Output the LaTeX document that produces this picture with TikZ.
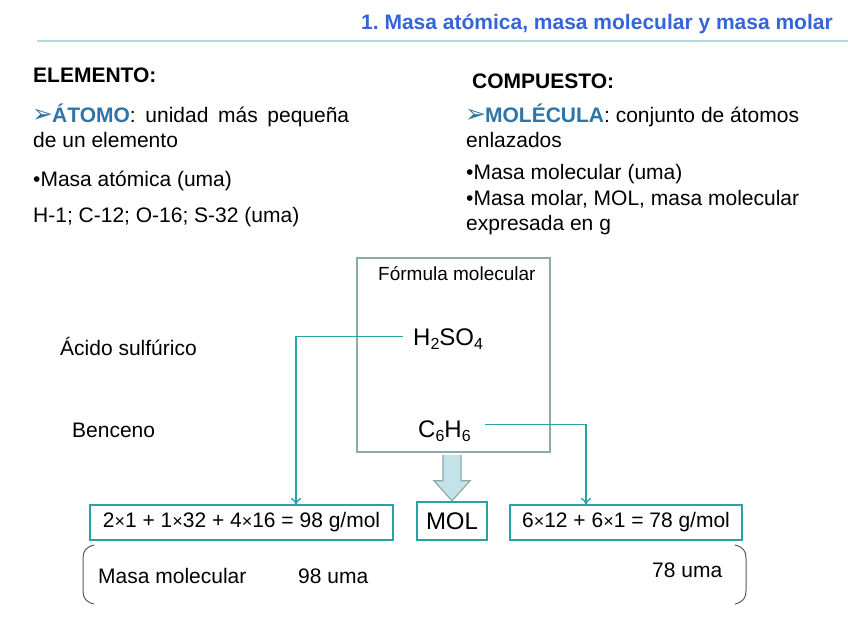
\documentclass[tikz,border=0pt]{standalone}
\usepackage{fontspec}
\setmainfont{Liberation Sans}
\newfontfamily\dejavu{DejaVu Sans}
\usetikzlibrary{positioning}
\usetikzlibrary{calc}
\usetikzlibrary{arrows.meta}

\definecolor{titleblue}{HTML}{3366D6}
\definecolor{headblue}{HTML}{2F74A6}
\definecolor{tealline}{HTML}{26A3A3}
\definecolor{boxgray}{HTML}{8DAAA8}
\definecolor{arrowfill}{HTML}{C4E3E8}
\definecolor{rulecol}{HTML}{B6DADB}

\newcommand{\pointer}{{\dejavu\fontsize{25}{25}\selectfont\textcolor{headblue}{\kern-1pt➢\kern-1pt}}}
\newcommand{\tms}{{\fontsize{18}{18}\selectfont ×}}
\newcommand{\sub}[1]{\raisebox{-4.5pt}{\fontsize{16}{16}\selectfont #1}}

\begin{document}
\begin{tikzpicture}[x=1pt, y=-1pt,
  every node/.style={inner sep=0pt, font=\fontsize{21}{25}\selectfont},
  txt/.style={anchor=base west},
  bigtxt/.style={anchor=base west, font=\fontsize{24}{28}\selectfont},
  sumbox/.style={draw=tealline, line width=2.5pt, minimum height=35},
  link/.style={draw=tealline, line width=1.3pt, -{To[length=7pt,width=10pt]}},
  brace/.style={draw=black!65, line width=1pt}]
  \useasboundingbox (0,0) rectangle (848,636);

  % title and rule
  \node[anchor=base east, font=\fontsize{21}{25}\selectfont\bfseries, text=titleblue] (title) at (833,29.5) {1.\ Masa atómica, masa molecular y masa molar};
  \draw[rulecol, line width=2pt] (37,41.5) -- (848,41.5);

  % left column
  \node[txt, font=\fontsize{21}{25}\selectfont\bfseries] (elem) at (33,83) {ELEMENTO:};
  \node[txt] (atomo) at (33,123) {\makebox[316pt][s]{\pointer\textcolor{headblue}{\textbf{ÁTOMO}}: unidad más pequeña}};
  \node[txt] (atomo2) at (33,148) {de un elemento};
  \node[txt] (matom) at (33,187) {•Masa atómica (uma)};
  \node[txt] (valores) at (33,223) {H-1; C-12; O-16; S-32 (uma)};

  % right column
  \node[txt, font=\fontsize{21}{25}\selectfont\bfseries] (comp) at (472,89) {COMPUESTO:};
  \node[txt] (molec) at (466,123) {\pointer\textcolor{headblue}{\textbf{MOLÉCULA}}: conjunto de átomos};
  \node[txt] (molec2) at (466,148) {enlazados};
  \node[txt] (mmolec) at (466,180) {•Masa molecular (uma)};
  \node[txt] (mmolar) at (466,206) {•Masa molar, MOL, masa molecular};
  \node[txt] (mmolar2) at (466,231) {expresada en g};

  % formula box
  \node[draw=boxgray, line width=2.5pt, minimum width=193, minimum height=194] (fbox) at (453.5,355) {};
  \node[txt, font=\fontsize{19}{22}\selectfont] (flabel) at (378,280) {Fórmula molecular};
  \node[bigtxt, inner xsep=10pt, text depth=0pt] (h2so4) at (403,345) {H\sub{2}SO\sub{4}};
  \node[bigtxt, inner xsep=14pt, text depth=0pt] (c6h6) at (404,437) {C\sub{6}H\sub{6}};
  \node[txt] (acido) at (60,355) {Ácido sulfúrico};
  \node[txt] (benceno) at (72,437) {Benceno};

  % result boxes
  \node[sumbox, minimum width=303] (sum1) at (241.5,522.5) {2\tms1 + 1\tms32 + 4\tms16 = 98 g/mol};
  \node[sumbox, minimum width=70, minimum height=38, font=\fontsize{24}{28}\selectfont] (mol) at (452,521) {MOL};
  \node[sumbox, minimum width=232] (sum2) at (626,522.5) {6\tms12 + 6\tms1 = 78 g/mol};

  % connectors
  \coordinate (tip1) at (296,505);
  \coordinate (tip2) at (586,505);
  \draw[link] (h2so4.west) -| (tip1);
  \draw[link] ([yshift=4pt]c6h6.east) -| (tip2);

  % block arrow
  \coordinate (atop) at (fbox.south -| mol.north);
  \draw[boxgray, fill=arrowfill, line width=1.2pt] ($(atop)+(-9,1.5)$) -- ($(mol.north)+(-9,-20)$) -- ($(mol.north)+(-18,-20)$) -- (mol.north) -- ($(mol.north)+(18,-20)$) -- ($(mol.north)+(9,-20)$) -- ($(atop)+(9,1.5)$);

  % bracket and masses
  \draw[brace] (94,545) .. controls (86,547) and (83,551) .. (83,558) -- (83,591) .. controls (83,598) and (86,602) .. (94,604);
  \draw[brace] (735,545) .. controls (743,547) and (746,551) .. (746,558) -- (746,591) .. controls (746,598) and (743,602) .. (735,604);
  \node[txt] (mmol) at (98,583) {Masa molecular};
  \node[txt] (uma1) at (298,583) {98 uma};
  \node[txt] (uma2) at (652,577) {78 uma};
\end{tikzpicture}
\end{document}
